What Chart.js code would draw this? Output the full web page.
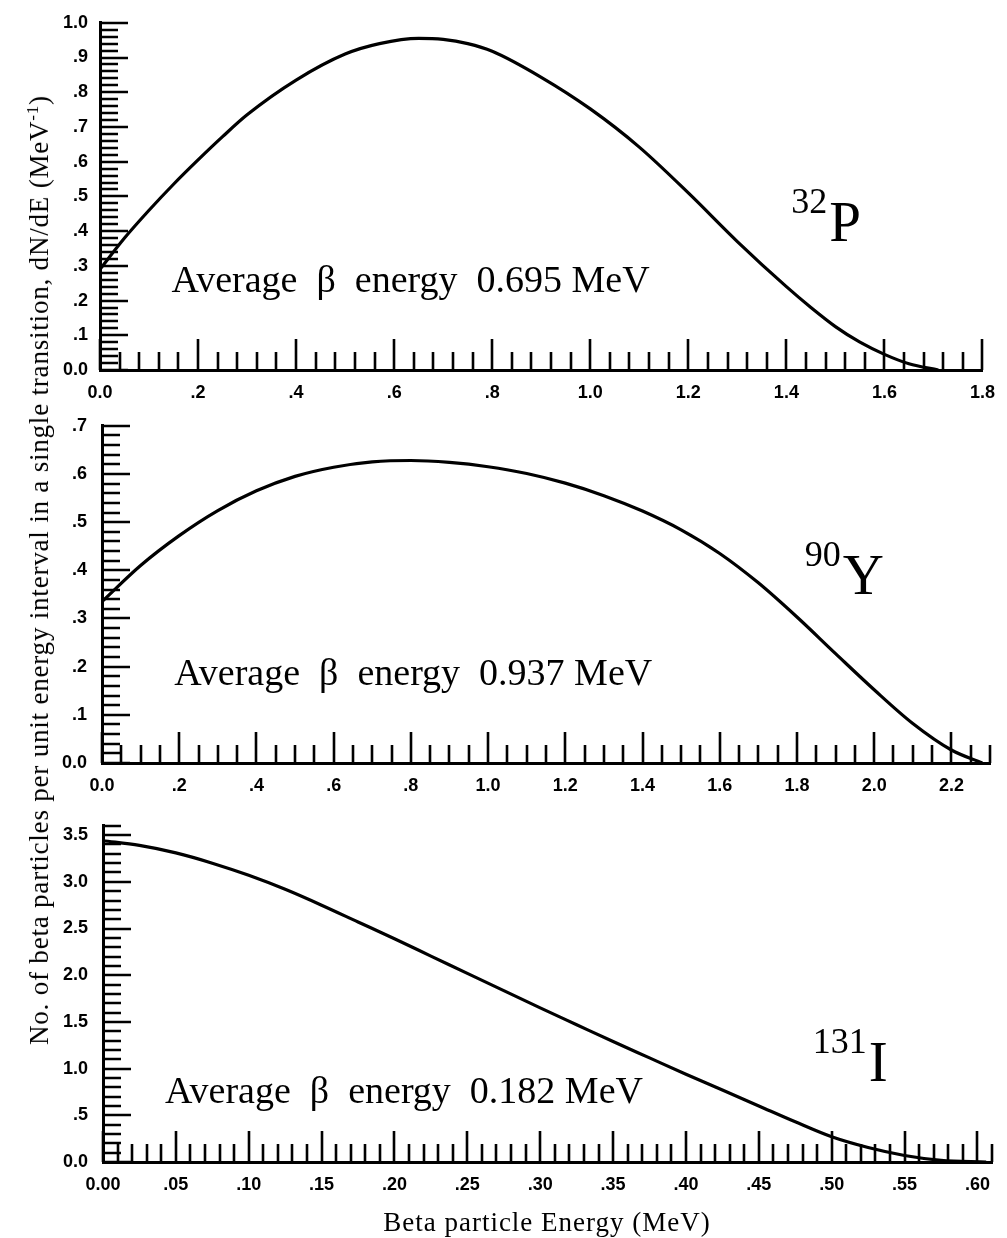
<!DOCTYPE html>
<html>
<head>
<meta charset="utf-8">
<script src="https://cdn.jsdelivr.net/npm/chart.js@4.4.1/dist/chart.umd.min.js"></script>
<style>
  body { margin: 0; background: #fff; }
  #wrap { position: relative; width: 1007px; height: 1238px; }
  .panel { position: absolute; left: 0; }
  #ytitle {
    position: absolute; left: 39px; top: 570px;
    transform: translate(-50%, -50%) rotate(-90deg);
    white-space: nowrap; font: 27px "Liberation Serif", serif; letter-spacing: 0.8px; color: #000;
  }
  #ytitle sup { font-size: 17px; }
  #xtitle {
    position: absolute; left: 547px; top: 1222px;
    transform: translate(-50%, -50%);
    white-space: nowrap; font: 27px "Liberation Serif", serif; letter-spacing: 1px; color: #000;
  }
</style>
</head>
<body>
<div id="wrap">
  <canvas id="Chart1" class="panel" style="top:0" width="1007" height="400"></canvas>
  <canvas id="Chart2" class="panel" style="top:400px" width="1007" height="400"></canvas>
  <canvas id="Chart3" class="panel" style="top:800px" width="1007" height="438"></canvas>
  <div id="ytitle">No. of beta particles per unit energy interval in a single transition, dN/dE (MeV<sup>-1</sup>)</div>
  <div id="xtitle">Beta particle Energy (MeV)</div>
</div>
<script>
// 32P spectrum
var p32Energy = [0, 0.05, 0.1, 0.15, 0.2, 0.25, 0.3, 0.4, 0.5, 0.57, 0.65, 0.7, 0.75, 0.8, 0.9, 1.0, 1.1, 1.2, 1.3, 1.4, 1.45, 1.5, 1.55, 1.6, 1.65, 1.71];
var p32Value  = [0.29, 0.38, 0.46, 0.535, 0.605, 0.672, 0.735, 0.835, 0.91, 0.94, 0.955, 0.952, 0.94, 0.918, 0.843, 0.752, 0.642, 0.51, 0.37, 0.24, 0.18, 0.125, 0.08, 0.045, 0.018, 0];

// 90Y spectrum
var y90Energy = [0, 0.1, 0.2, 0.3, 0.4, 0.5, 0.6, 0.7, 0.8, 0.9, 1.0, 1.1, 1.2, 1.3, 1.4, 1.5, 1.6, 1.7, 1.8, 1.9, 2.0, 2.1, 2.2, 2.28];
var y90Value  = [0.335, 0.41, 0.472, 0.524, 0.565, 0.595, 0.614, 0.625, 0.628, 0.624, 0.615, 0.601, 0.581, 0.555, 0.523, 0.484, 0.435, 0.374, 0.303, 0.227, 0.152, 0.082, 0.027, 0];

// 131I spectrum
var i131Energy = [0, 0.025, 0.05, 0.075, 0.1, 0.125, 0.15, 0.175, 0.2, 0.225, 0.25, 0.275, 0.3, 0.325, 0.35, 0.375, 0.4, 0.425, 0.45, 0.475, 0.5, 0.525, 0.55, 0.575, 0.606];
var i131Value  = [3.44, 3.39, 3.31, 3.2, 3.07, 2.92, 2.75, 2.57, 2.39, 2.205, 2.02, 1.835, 1.65, 1.47, 1.29, 1.115, 0.94, 0.77, 0.6, 0.43, 0.27, 0.155, 0.07, 0.018, 0];

var avgLabels = ["Average  \u03b2  energy  0.695 MeV", "Average  \u03b2  energy  0.937 MeV", "Average  \u03b2  energy  0.182 MeV"];
var massNumbers = ["32", "90", "131"];
var elements = ["P", "Y", "I"];

function fmt(v, dec) {
  if (Math.abs(v) < 1e-9) return (0).toFixed(dec);
  var s = v.toFixed(dec);
  return s.charAt(0) === "0" ? s.slice(1) : s;
}
function onStep(v, step) {
  return Math.abs(v / step - Math.round(v / step)) < 1e-6;
}

// inward tick marks + text notes
var inTicks = {
  id: 'inTicks',
  afterDraw: function (chart, args, o) {
    var ctx = chart.ctx, a = chart.chartArea;
    var xs = chart.scales.x, ys = chart.scales.y;
    ctx.save();
    ctx.strokeStyle = '#000';
    ctx.lineWidth = 2.6;
    ctx.beginPath();
    var n = Math.round(xs.max / o.xMinor);
    for (var i = 0; i <= n; i++) {
      var v = i * o.xMinor;
      if (v > xs.max + 1e-9) break;
      var px = Math.round(xs.getPixelForValue(v));
      var len = onStep(v, o.xMajor) ? 31 : 18;
      ctx.moveTo(px, a.bottom);
      ctx.lineTo(px, a.bottom - len);
    }
    n = Math.round(ys.max / o.yMinor);
    for (i = 0; i <= n; i++) {
      v = i * o.yMinor;
      if (v > ys.max + 1e-9) break;
      var py = Math.round(ys.getPixelForValue(v));
      len = onStep(v, o.yMajor) ? 28 : 18;
      ctx.moveTo(a.left, py);
      ctx.lineTo(a.left + len, py);
    }
    ctx.stroke();

    ctx.fillStyle = '#000';
    ctx.textBaseline = 'alphabetic';
    ctx.textAlign = 'left';
    ctx.font = '38px "Liberation Serif", serif';
    ctx.fillText(o.note, xs.getPixelForValue(o.noteX), ys.getPixelForValue(o.noteY));
    var lx = xs.getPixelForValue(o.isoX), ly = ys.getPixelForValue(o.isoY);
    ctx.font = '36px "Liberation Serif", serif';
    ctx.fillText(o.mass, lx, ly - 28);
    var w = ctx.measureText(o.mass).width;
    ctx.font = '57px "Liberation Serif", serif';
    ctx.fillText(o.el, lx + w + 2, ly);
    ctx.restore();
  }
};

var xFont = { family: '"Liberation Sans", Arial, sans-serif', size: 18, weight: 'bold' };
var yFont = { family: '"Liberation Sans", Arial, sans-serif', size: 18, weight: 'bold' };

function makeChart(id, xs, ys, c) {
  var pts = xs.map(function (x, i) { return { x: x, y: ys[i] }; });
  return new Chart(document.getElementById(id).getContext('2d'), {
    type: 'line',
    data: { datasets: [{ data: pts, borderColor: '#000', borderWidth: 3.2, pointRadius: 0, cubicInterpolationMode: 'monotone', fill: false }] },
    plugins: [inTicks],
    options: {
      responsive: false,
      animation: false,
      layout: { padding: { top: c.padTop, right: c.padRight, left: 0, bottom: 0 } },
      plugins: {
        legend: { display: false },
        tooltip: { enabled: false },
        inTicks: c.marks
      },
      scales: {
        x: {
          type: 'linear', min: 0, max: c.xMax, bounds: 'data',
          grid: { display: false, drawTicks: false },
          border: { display: true, color: '#000', width: 3 },
          ticks: {
            stepSize: c.marks.xMajor, autoSkip: false, maxRotation: 0, padding: 12,
            color: '#000', font: xFont,
            callback: function (v) { return onStep(v, c.marks.xMajor) ? fmt(v, c.xDec) : null; }
          },
          afterFit: function (s) { s.height = c.xHeight; }
        },
        y: {
          type: 'linear', min: 0, max: c.yMax, bounds: 'data',
          grid: { display: false, drawTicks: false },
          border: { display: true, color: '#000', width: 3 },
          ticks: {
            stepSize: c.marks.yMajor, autoSkip: false, padding: c.yPad,
            color: '#000', font: yFont,
            callback: function (v) { return onStep(v, c.marks.yMajor) ? fmt(v, 1) : null; }
          },
          afterFit: function (s) { s.width = c.yWidth; }
        }
      }
    }
  });
}

var Chart1 = makeChart('Chart1', p32Energy, p32Value, {
  xMax: 1.8, yMax: 1.0, xDec: 1, padTop: 15, padRight: 20, xHeight: 30, yWidth: 100, yPad: 12,
  marks: { xMajor: 0.2, xMinor: 0.04, yMajor: 0.1, yMinor: 0.02,
    note: avgLabels[0], noteX: 0.146, noteY: 0.225, mass: massNumbers[0], el: elements[0], isoX: 1.41, isoY: 0.372 }
});

var Chart2 = makeChart('Chart2', y90Energy, y90Value, {
  xMax: 2.3, yMax: 0.7, xDec: 1, padTop: 15, padRight: 17, xHeight: 37, yWidth: 102, yPad: 15,
  marks: { xMajor: 0.2, xMinor: 0.05, yMajor: 0.1, yMinor: 0.02,
    note: avgLabels[1], noteX: 0.187, noteY: 0.161, mass: massNumbers[1], el: elements[1], isoX: 1.82, isoY: 0.35 }
});

var Chart3 = makeChart('Chart3', i131Energy, i131Value, {
  xMax: 0.61, yMax: 3.6, xDec: 2, padTop: 10, padRight: 15, xHeight: 76, yWidth: 103, yPad: 15,
  marks: { xMajor: 0.05, xMinor: 0.01, yMajor: 0.5, yMinor: 0.1,
    note: avgLabels[2], noteX: 0.0425, noteY: 0.634, mass: massNumbers[2], el: elements[2], isoX: 0.487, isoY: 0.87 }
});
</script>
</body>
</html>
